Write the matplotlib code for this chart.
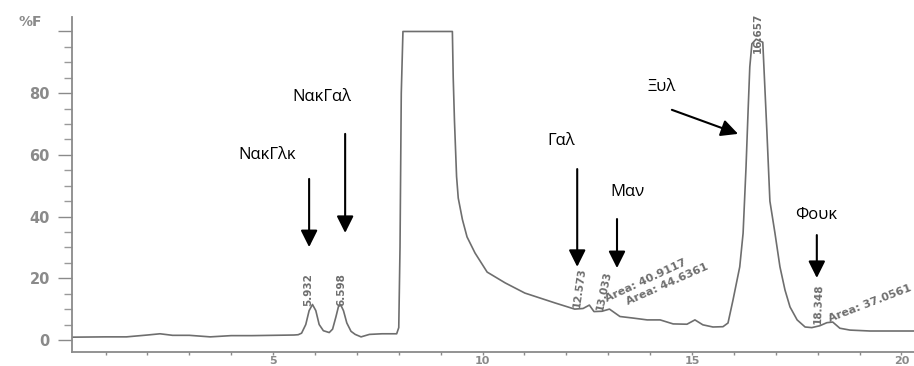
import matplotlib
matplotlib.use("Agg")
import matplotlib.pyplot as plt
import matplotlib.transforms as mtransforms
from matplotlib.ticker import MultipleLocator

# chromatogram trace: retention time (min) vs signal (%F)
rt = [0.2, 1.0, 1.5, 2.0, 2.3, 2.6, 3.0, 3.5, 4.0, 4.5, 5.0, 5.5, 5.6, 5.68, 5.78,
      5.86, 5.94, 6.02, 6.10, 6.20, 6.34, 6.42, 6.50, 6.56, 6.61, 6.68, 6.76, 6.86,
      6.96, 7.10, 7.30, 7.60, 7.95, 8.00, 8.03, 8.06, 8.10, 9.28, 9.30, 9.33, 9.38,
      9.42, 9.52, 9.63, 9.82, 10.11, 10.54, 11.01, 11.73, 12.20, 12.40, 12.55, 12.66,
      12.85, 13.03, 13.28, 13.59, 13.93, 14.24, 14.55, 14.88, 15.07, 15.26, 15.50,
      15.74, 15.86, 15.98, 16.14, 16.22, 16.29, 16.34, 16.38, 16.43, 16.53, 16.69,
      16.79, 16.86, 16.98, 17.10, 17.22, 17.34, 17.51, 17.70, 17.86, 18.05, 18.22,
      18.36, 18.53, 18.77, 19.25, 20.30]
signal = [0.9, 1.0, 1.0, 1.6, 2.0, 1.5, 1.5, 1.0, 1.4, 1.4, 1.5, 1.6, 1.7, 2.2, 5.0,
          9.5, 11.5, 9.5, 5.0, 3.0, 2.4, 3.5, 7.5, 10.8, 11.5, 9.5, 5.5, 2.8,
          1.8, 1.0, 1.8, 2.0, 2.0, 4.0, 30, 80, 100, 100, 85, 71, 53,
          46, 39, 33.4, 28.2, 22.0, 18.5, 15.2, 12.0, 10.0, 10.2, 11.3, 9.2,
          9.3, 10.0, 7.6, 7.1, 6.5, 6.5, 5.2, 5.1, 6.5, 4.9, 4.2,
          4.3, 5.5, 13, 23.7, 34.6, 56, 74.5, 88.5, 96, 97.5, 96.5,
          67, 45, 34.7, 23.7, 16.2, 10.7, 6.5, 4.2, 4.0, 4.6, 5.6,
          5.8, 3.8, 3.2, 2.9, 2.9]

# peak labels printed by the integrator
peak_labels = ["5.932", "6.598", "12.573", "13.033", "16.657", "18.348"]
area_labels = ["Area: 40.9117", "Area: 44.6361", "Area: 37.0561"]

# sugar names
sugars = ["ΝακΓλκ", "ΝακΓαλ", "Γαλ", "Μαν", "Ξυλ", "Φουκ"]

y_ticks = [0, 20, 40, 60, 80]

# layout (data coords): label position, arrow tail, arrow tip
sugar_text_pos = [(4.86, 60.0), (6.17, 78.8), (11.87, 64.5), (13.45, 48.0), (14.28, 82.0), (17.96, 40.5)]
arrow_tail = [(5.86, 52.2), (6.72, 66.8), (12.26, 55.4), (13.21, 39.2), (14.52, 74.6), (17.98, 34.0)]
arrow_tip = [(5.86, 30.1), (6.72, 34.7), (12.26, 23.7), (13.21, 23.3), (16.10, 66.8), (17.98, 20.1)]
peak_label_pos = [(5.84, 16.2, 90), (6.62, 16.2, 90), (12.33, 16.9, 82), (12.90, 16.0, 78),
                  (16.57, 99.5, 90), (18.03, 11.8, 88)]
area_label_pos = [(13.00, 11.8, 25), (13.50, 10.6, 24), (18.30, 5.2, 21)]

GREY = "#6e6e6e"


def plot_chromatogram():
    fig = plt.figure(figsize=(9.14, 3.66), dpi=100)
    ax = fig.add_axes([0.0788, 0.0383, 0.9212, 0.9153])
    ax.set_xlim(0.2, 20.3)
    ax.set_ylim(-3.9, 104.7)

    ax.plot(rt, signal, color=GREY, lw=1.2, solid_joinstyle="round")

    for s in ["top", "right"]:
        ax.spines[s].set_visible(False)
    for s in ["left", "bottom"]:
        ax.spines[s].set_color("#8a8a8a")
        ax.spines[s].set_linewidth(1.3)

    ax.yaxis.set_major_locator(MultipleLocator(20))
    ax.yaxis.set_minor_locator(MultipleLocator(5))
    ax.set_yticks(y_ticks + [100])
    ax.set_yticklabels([str(v) for v in y_ticks] + [""])
    ax.xaxis.set_major_locator(MultipleLocator(5))
    ax.xaxis.set_minor_locator(MultipleLocator(1))
    ax.tick_params(axis="y", which="major", length=10, width=1, color="#8a8a8a",
                   labelsize=10.5, labelcolor="#8a8a8a", pad=6)
    ax.tick_params(axis="y", which="minor", length=6, width=1, color="#9a9a9a")
    ax.tick_params(axis="x", which="both", length=2, width=1, color="#8a8a8a",
                   labelsize=8, labelcolor="#8a8a8a", pad=1)
    for lab in ax.get_yticklabels() + ax.get_xticklabels():
        lab.set_fontweight("bold")

    trans = mtransforms.blended_transform_factory(ax.transAxes, ax.transData)
    ax.text(-0.05, 103, "%F", transform=trans, ha="center", va="center",
            fontsize=10, color="#8a8a8a", fontweight="bold")

    for lab, (x, y, rot) in zip(peak_labels, peak_label_pos):
        ax.text(x, y, lab, rotation=rot, ha="center", va="center", fontsize=7.5,
                color=GREY, fontweight="bold", clip_on=False)
    for lab, (x, y, rot) in zip(area_labels, area_label_pos):
        ax.text(x, y, lab, rotation=rot, rotation_mode="anchor", ha="left", va="bottom",
                fontsize=8, color=GREY, fontweight="bold", clip_on=False)

    for name, tpos, tail, tip in zip(sugars, sugar_text_pos, arrow_tail, arrow_tip):
        ax.text(tpos[0], tpos[1], name, ha="center", va="center", fontsize=12,
                family=["Open Sans", "DejaVu Sans"], color="black")
        ax.annotate("", xy=tip, xytext=tail,
                    arrowprops=dict(arrowstyle="-|>,head_length=0.6,head_width=0.3",
                                    mutation_scale=17, color="black", lw=1.5,
                                    shrinkA=0, shrinkB=0))

    fig.savefig("out.png", dpi=100)


if __name__ == "__main__":
    plot_chromatogram()
